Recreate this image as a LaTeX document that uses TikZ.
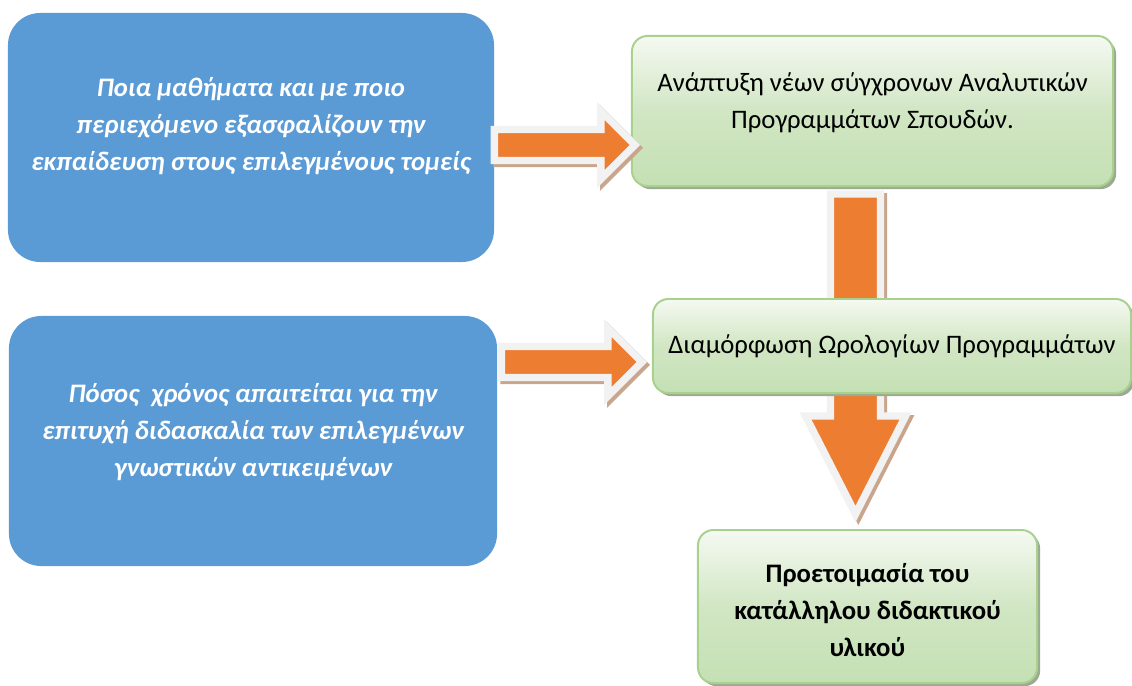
\documentclass[tikz,border=0pt]{standalone}
\usepackage{fontspec}
\setmainfont{Carlito}
\usetikzlibrary{calc,shadows}

\definecolor{qblue}{HTML}{5B9BD5}
\definecolor{arroworange}{HTML}{ED7D31}
\definecolor{arrowgrey}{HTML}{F2F2F2}
\definecolor{arrowshade}{HTML}{C9A58C}
\definecolor{stepborder}{HTML}{A9D18E}
\definecolor{steptop}{HTML}{F5F9F2}
\definecolor{stepbottom}{HTML}{C5E0B4}
\definecolor{stepshade}{HTML}{9DAA93}

\newcommand{\rightblock}[3][]{%
  \path[#1] let \p1=#2, \p2=#3 in
    ([shift={(0,-15.5)}]\x1,\y1) -- ([shift={(-34,-15.5)}]\x2,\y1) -- ([shift={(-34,-34)}]\x2,\y1)
    -- (\x2,\y1) -- ([shift={(-34,34)}]\x2,\y1) -- ([shift={(-34,15.5)}]\x2,\y1)
    -- ([shift={(0,15.5)}]\x1,\y1) -- cycle;}
\newcommand{\downblock}[3][]{%
  \path[#1] let \p1=#2, \p2=#3 in
    ([shift={(-25,0)}]\x1,\y1) -- ([shift={(-25,-98)}]\x1,\y2) -- ([shift={(-50,-98)}]\x1,\y2)
    -- (\x1,\y2) -- ([shift={(50,-98)}]\x1,\y2) -- ([shift={(25,-98)}]\x1,\y2)
    -- ([shift={(25,0)}]\x1,\y1) -- cycle;}

\begin{document}
\begin{tikzpicture}[x=0.025cm, y=-0.025cm,
  question/.style={rectangle, rounded corners=23pt, fill=qblue, inner sep=0pt},
  questiontext/.style={text=white, align=center, font=\fontsize{19}{26.3}\selectfont\bfseries\itshape},
  stepbox/.style={rectangle, rounded corners=11pt, draw=stepborder, line width=1.4pt,
    top color=steptop, bottom color=stepbottom, middle color=stepbottom!75!steptop,
    drop shadow={shadow xshift=2.2pt, shadow yshift=-2.2pt, fill=stepshade, opacity=1}, inner sep=0pt},
  steptext/.style={align=center, font=\fontsize{19}{26.3}\selectfont},
  arrowbody/.style={fill=arroworange, draw=arrowgrey, line width=5.3pt, line join=miter},
  arrowshadow/.style={fill=arrowshade, draw=arrowshade, line width=5.3pt, line join=miter,
    transform canvas={xshift=2pt, yshift=-2pt}}]

\useasboundingbox (0,0) rectangle (1132,685);

\node[question, minimum width=12.15cm, minimum height=6.225cm] (q1) at (251,137.5) {};
\node[questiontext] (q1txt) at ($(q1)+(0,-11)$) {Ποια μαθήματα και με ποιο\\περιεχόμενο εξασφαλίζουν την\\εκπαίδευση στους επιλεγμένους τομείς};

\node[question, minimum width=12.2cm, minimum height=6.25cm] (q2) at (253,441) {};
\node[questiontext] (q2txt) at ($(q2)+(0,-9)$) {Πόσος\ \ χρόνος απαιτείται για την\\επιτυχή διδασκαλία των επιλεγμένων\\γνωστικών αντικειμένων};

\node[stepbox, minimum width=12.025cm, minimum height=3.75cm] (dev) at (872.5,111) {};
\node[steptext] (devtxt) at ($(dev)+(0,-8)$) {Ανάπτυξη νέων σύγχρονων Αναλυτικών\\Προγραμμάτων Σπουδών.};

\node[stepbox, minimum width=8.475cm, minimum height=3.825cm] (mat) at (867.5,606.5) {};
\node[steptext, font=\fontsize{19}{26.3}\selectfont\bfseries] (mattxt) at ($(mat)+(0,3.5)$) {Προετοιμασία του\\κατάλληλου διδακτικού\\υλικού};

\coordinate (a1s) at ($(q1.east)+(0,7.5)$);
\coordinate (a1e) at ($(a1s -| dev.west)+(4,0)$);
\rightblock[arrowshadow]{(a1s)}{(a1e)}
\rightblock[arrowbody]{(a1s)}{(a1e)}

\coordinate (a3s) at ($(dev.south)+(-17,7)$);
\coordinate (a3e) at ($(a3s)+(0,320)$);
\downblock[arrowshadow]{(a3s)}{(a3e)}
\downblock[arrowbody]{(a3s)}{(a3e)}

\node[stepbox, minimum width=11.95cm, minimum height=2.35cm] (sched) at (892,346) {};
\node[steptext] (schedtxt) at ($(sched)+(0,0)$) {Διαμόρφωση Ωρολογίων Προγραμμάτων};

\coordinate (a2s) at ($(q2.east |- sched.west)+(4,16)$);
\coordinate (a2e) at ($(a2s -| sched.west)+(-10,0)$);
\rightblock[arrowshadow]{(a2s)}{(a2e)}
\rightblock[arrowbody]{(a2s)}{(a2e)}

\end{tikzpicture}
\end{document}
